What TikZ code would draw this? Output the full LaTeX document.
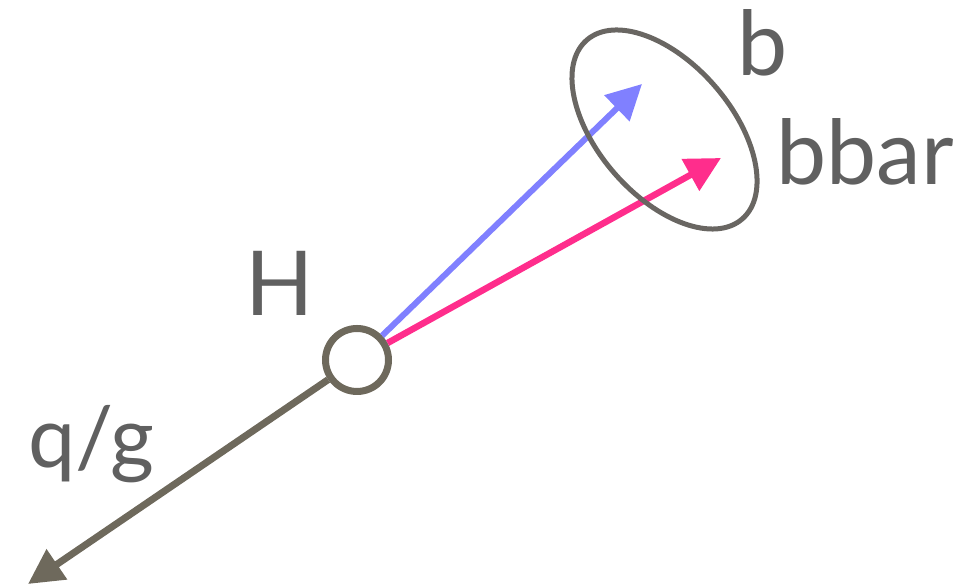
\documentclass[tikz,border=0pt]{standalone}
\usepackage{fontspec}
\setmainfont{Lato}
\usetikzlibrary{arrows.meta}
\definecolor{labelgray}{RGB}{96,96,96}
\definecolor{olivegray}{RGB}{110,105,92}
\definecolor{conegray}{RGB}{105,102,98}
\definecolor{bblue}{RGB}{128,128,255}
\definecolor{bpink}{RGB}{255,45,140}
\tikzset{
	lbl/.style = {text = labelgray, font = \fontsize{51}{60}\selectfont, anchor = base, inner sep = 0pt},
	jet/.style = {line width = 1.2mm, -{Triangle[length = 7mm, width = 7mm]}},
}
\begin{document}
\begin{tikzpicture}
	\useasboundingbox (0,0) rectangle (19.48,11.7);
	\node [circle, draw = olivegray, line width = 1.4mm, minimum size = 1.26cm, inner sep = 0pt] (higgs) at (7.14,4.5) {};
	\coordinate (btip) at (12.84,10.02);
	\coordinate (bbartip) at (14.42,8.54);
	\coordinate (qgtip) at (0.56,0.02);
	\coordinate (cone) at (13.29,9.11);
	\draw [jet, bblue] (higgs) -- (btip);
	\draw [jet, bpink, line width = 1.3mm] (higgs) -- (bbartip);
	\draw [jet, olivegray, line width = 1.4mm] (higgs) -- (qgtip);
	\draw [conegray, line width = 1mm, rotate around = {-49:(cone)}] (cone) ellipse (2.37cm and 1.33cm);
	\node [lbl] (hlabel) at (5.6,5.38) {H};
	\node [lbl] (blabel) at (15.26,10.18) {b};
	\node [lbl] (bbarlabel) at (17.3,8.0) {bbar};
	\node [lbl, font = \fontsize{48}{58}\selectfont] (qglabel) at (1.82,2.34) {q/g};
\end{tikzpicture}
\end{document}
